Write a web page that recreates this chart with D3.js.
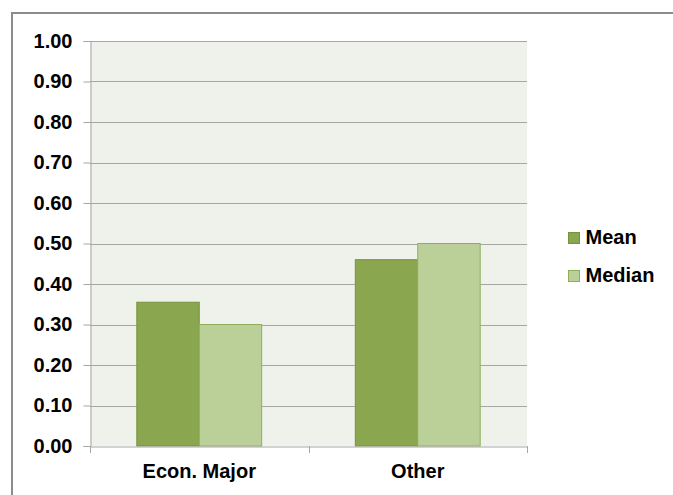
<!DOCTYPE html>
<html>
<head>
<meta charset="utf-8">
<script src="https://cdn.jsdelivr.net/npm/d3@7"></script>
<style>
  html, body { margin: 0; padding: 0; background: #fff; }
  svg { display: block; font-family: "Liberation Sans", Arial, sans-serif; }
</style>
</head>
<body>
<svg id="chart" width="673" height="495"></svg>
<script>
// Chart data
const categories = ["Econ. Major", "Other"];
const seriesNames = ["Mean", "Median"];
const meanValues = [0.355, 0.46];
const medianValues = [0.30, 0.50];
const tickValues = [0, 0.1, 0.2, 0.3, 0.4, 0.5, 0.6, 0.7, 0.8, 0.9, 1.0];

const colors = { Mean: "#8aa64f", Median: "#bbd098" };
const strokes = { Mean: "#76923c", Median: "#8fae5c" };
const fontStack = "'Liberation Sans', Arial, sans-serif";

const svg = d3.select("#chart");

// Outer frame
svg.append("path")
  .attr("d", "M12,495 L12,13 L673,13")
  .attr("fill", "none")
  .attr("stroke", "#8c8c8c")
  .attr("stroke-width", 2);

const plot = { left: 90, right: 527, top: 41, bottom: 446 };

const x = d3.scaleBand()
  .domain(categories)
  .range([plot.left, plot.right])
  .paddingInner(0)
  .paddingOuter(0);

const y = d3.scaleLinear()
  .domain([0, 1])
  .range([plot.bottom, plot.top]);

// Plot background
svg.append("rect")
  .attr("x", plot.left).attr("y", plot.top)
  .attr("width", plot.right - plot.left).attr("height", plot.bottom - plot.top)
  .attr("fill", "#eff2ea");

// Gridlines
svg.append("g")
  .selectAll("line")
  .data(tickValues.filter(d => d > 0))
  .join("line")
  .attr("x1", plot.left).attr("x2", plot.right)
  .attr("y1", d => Math.round(y(d)) + 0.5).attr("y2", d => Math.round(y(d)) + 0.5)
  .attr("stroke", "#a6a6a6").attr("stroke-width", 1);

// Bars: gap width 150% of a bar on each group
const barW = x.bandwidth() / 3.5;
const x1 = d3.scaleBand()
  .domain(seriesNames)
  .range([barW * 0.75, barW * 2.75]);

const rows = categories.map((c, i) => ({ cat: c, Mean: meanValues[i], Median: medianValues[i] }));

const groups = svg.append("g")
  .selectAll("g")
  .data(rows)
  .join("g")
  .attr("transform", d => `translate(${x(d.cat)},0)`);

groups.selectAll("rect")
  .data(d => seriesNames.map(s => ({ s, v: d[s] })))
  .join("rect")
  .attr("x", d => x1(d.s))
  .attr("y", d => y(d.v))
  .attr("width", x1.bandwidth())
  .attr("height", d => y(0) - y(d.v))
  .attr("fill", d => colors[d.s])
  .attr("stroke", d => strokes[d.s])
  .attr("stroke-width", 1);

// Y axis
const yAxis = d3.axisLeft(y)
  .tickValues(tickValues)
  .tickFormat(d3.format(".2f"))
  .tickSize(7)
  .tickPadding(11);

const gy = svg.append("g")
  .attr("transform", `translate(${plot.left + 0.5},0)`)
  .call(yAxis);
gy.select(".domain").attr("stroke", "#a6a6a6");
gy.selectAll(".tick line").attr("stroke", "#a6a6a6");
gy.selectAll(".tick text")
  .attr("fill", "#000")
  .style("font-size", "20px")
  .style("font-weight", "bold")
  .style("font-family", fontStack);

// X axis
const xAxis = d3.axisBottom(x)
  .tickSize(0)
  .tickPadding(17);

const gx = svg.append("g")
  .attr("transform", `translate(0,${plot.bottom + 0.5})`)
  .call(xAxis);
gx.select(".domain").attr("stroke", "#a6a6a6");
gx.selectAll(".tick text")
  .attr("fill", "#000")
  .style("font-size", "20px")
  .style("font-weight", "bold")
  .style("font-family", fontStack);

// Category divider ticks
svg.append("g")
  .selectAll("line")
  .data(categories.map(c => x(c)).concat([plot.right]))
  .join("line")
  .attr("x1", d => Math.round(d) + 0.5).attr("x2", d => Math.round(d) + 0.5)
  .attr("y1", plot.bottom).attr("y2", plot.bottom + 7)
  .attr("stroke", "#a6a6a6");

// Legend
const legend = svg.append("g")
  .selectAll("g")
  .data(seriesNames)
  .join("g")
  .attr("transform", (d, i) => `translate(568.5,${232.5 + i * 38})`);

legend.append("rect")
  .attr("width", 11).attr("height", 11)
  .attr("fill", d => colors[d])
  .attr("stroke", d => strokes[d]);

legend.append("text")
  .attr("x", 17).attr("y", 11.5)
  .text(d => d)
  .style("font-size", "20px")
  .style("font-weight", "bold")
  .style("font-family", fontStack)
  .attr("fill", "#000");
</script>
</body>
</html>
